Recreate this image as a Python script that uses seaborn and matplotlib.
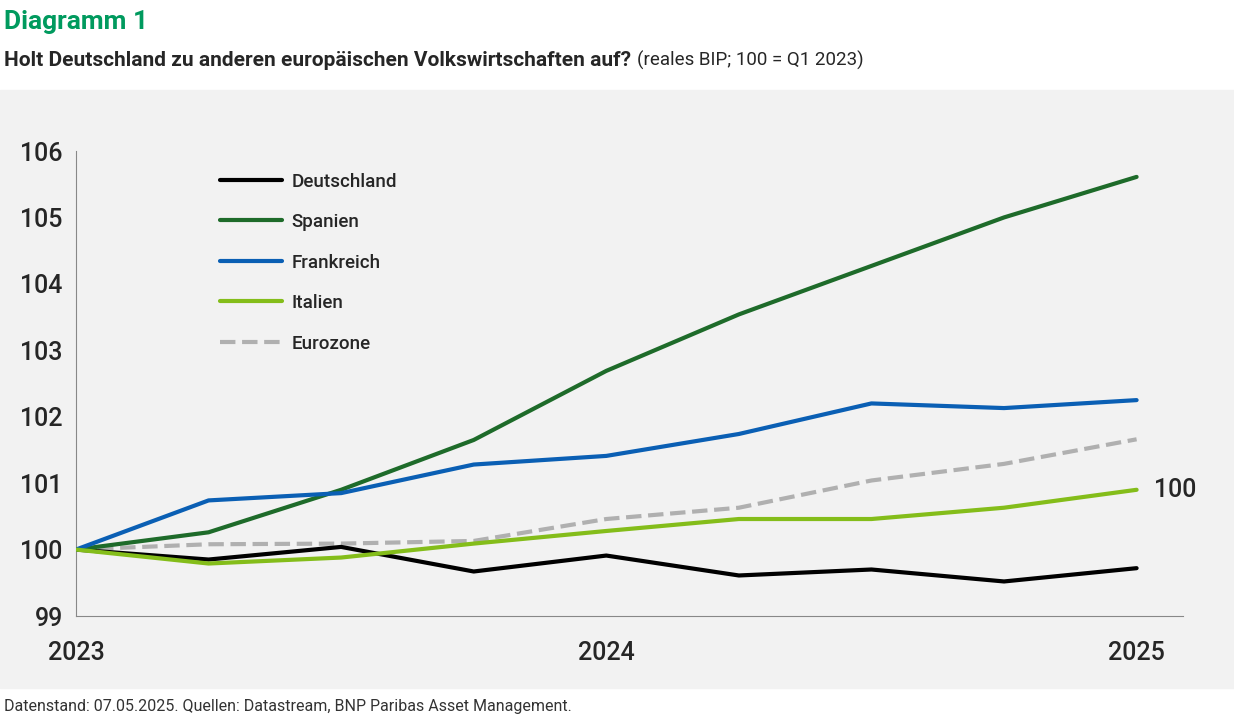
import matplotlib
matplotlib.use("Agg")
import matplotlib.pyplot as plt
import seaborn as sns
import pandas as pd
from matplotlib.patches import Rectangle

quarters = list(range(9))  # Q1 2023 .. Q1 2025
deutschland = [100, 99.85, 100.04, 99.67, 99.91, 99.61, 99.70, 99.52, 99.72]
spanien = [100, 100.26, 100.90, 101.65, 102.69, 103.54, 104.27, 105.00, 105.61]
frankreich = [100, 100.74, 100.85, 101.28, 101.41, 101.74, 102.20, 102.13, 102.25]
italien = [100, 99.79, 99.88, 100.09, 100.28, 100.46, 100.46, 100.63, 100.90]
eurozone = [100, 100.08, 100.09, 100.13, 100.46, 100.63, 101.04, 101.29, 101.66]

series = {"Deutschland": deutschland, "Spanien": spanien, "Frankreich": frankreich,
          "Italien": italien, "Eurozone": eurozone}
colors = {"Deutschland": "#000000", "Spanien": "#1e6b2a", "Frankreich": "#0a5fb4",
          "Italien": "#84bd1a", "Eurozone": "#b0b0b0"}

df = pd.DataFrame([(q, name, v) for name, vals in series.items() for q, v in zip(quarters, vals)],
                  columns=["q", "land", "wert"])

sns.set_style("white")
plt.rcParams["font.family"] = ["Roboto", "DejaVu Sans"]

fig = plt.figure(figsize=(12.34, 7.15), dpi=100)
fig.patches.append(Rectangle((0, 1 - 688 / 715), 1, (688 - 90) / 715, transform=fig.transFigure,
                             color="#f2f2f2", zorder=-10))
ax = fig.add_axes([76 / 1234, 1 - 616 / 715, (1183 - 76) / 1234, (616 - 151) / 715])
ax.set_facecolor("none")

for name in series:
    d = df[df["land"] == name]
    sns.lineplot(data=d, x="q", y="wert", ax=ax, color=colors[name], lw=3, label=name,
                 linestyle="--" if name == "Eurozone" else "-", zorder=3 if name != "Eurozone" else 2)

ax.set_xlim(0, 8.35)
ax.set_ylim(99, 106)
ax.set_yticks(range(99, 107))
ax.set_xticks(quarters)
ax.set_xticklabels(["2023", "", "", "", "2024", "", "", "", "2025"])
ax.tick_params(axis="both", labelsize=18, direction="out", length=6, color="#888888", width=1)
ax.tick_params(axis="x", pad=12)
for lab in ax.get_xticklabels() + ax.get_yticklabels():
    lab.set_fontweight("medium")
for s in ["top", "right"]:
    ax.spines[s].set_visible(False)
for s in ["left", "bottom"]:
    ax.spines[s].set_color("#888888")
ax.set_xlabel("")
ax.set_ylabel("")
ax.text(8.13, 100.9, "100", fontsize=18, fontweight="medium", va="center", ha="left")

leg = ax.legend(loc="upper left", bbox_to_anchor=(0.115, 0.99), frameon=False, fontsize=13.5,
                handlelength=3.3, labelspacing=1.2, handletextpad=0.5)
for txt in leg.get_texts():
    txt.set_fontweight("medium")

fig.text(0.003, 0.96, "Diagramm 1", fontsize=19, fontweight="bold", color="#009a5e")
t = fig.text(0.003, 0.908, "Holt Deutschland zu anderen europäischen Volkswirtschaften auf?",
             fontsize=15, fontweight="bold")
fig.canvas.draw()
bb = t.get_window_extent().transformed(fig.transFigure.inverted())
fig.text(bb.x1 + 0.005, 0.908, "(reales BIP; 100 = Q1 2023)", fontsize=13.5)
fig.text(0.003, 0.005, "Datenstand: 07.05.2025. Quellen: Datastream, BNP Paribas Asset Management.",
         fontsize=11.5, color="#333333")

fig.savefig("out.png", dpi=100)
